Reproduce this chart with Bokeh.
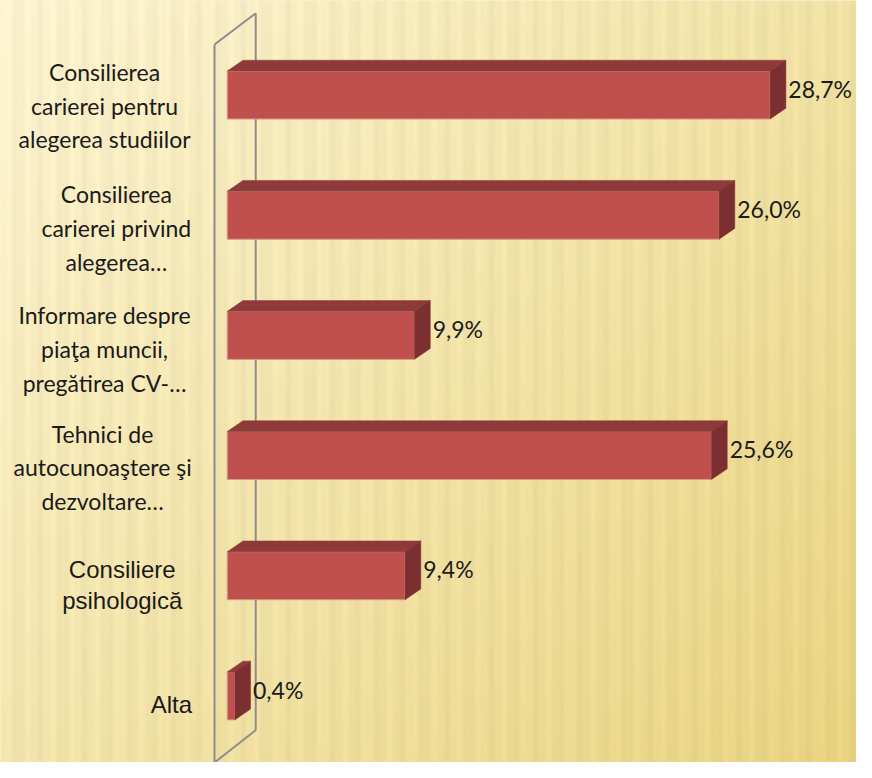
import numpy as np
from bokeh.plotting import figure
from bokeh.models import Range1d, ColumnDataSource
from bokeh.core.properties import value
from bokeh.embed import file_html
from bokeh.resources import INLINE

# ---- data ----
categories = [
    "Consilierea\ncarierei pentru\nalegerea studiilor",
    "Consilierea\ncarierei privind\nalegerea…",
    "Informare despre\npiaţa muncii,\npregătirea CV-…",
    "Tehnici de\nautocunoaştere şi\ndezvoltare…",
    "Consiliere\npsihologică",
    "Alta",
]
values = [28.7, 26.0, 9.9, 25.6, 9.4, 0.4]
value_labels = ["28,7%", "26,0%", "9,9%", "25,6%", "9,4%", "0,4%"]

# ---- layout (reference pixel geometry) ----
W, H = 856, 762
REF_W, REF_H = 872, 778
X0_PX, PX = 231.0, 19.27      # px of value 0, px per percent
Y0_PX, PY = 96.5, 122.7       # px of first bar centre, px per category slot


def xd(px):
    return (px - X0_PX) / PX


def yd(py):
    return -(py - Y0_PX) / PY


label_cx_px = [106, 118, 106, 104, 124, 174]
label_dy_px = [11, 13, 14, 12, 9, 9]
HH = 24.5 / PY       # half bar height
DX = 16.0 / PX       # 3D depth
DY = 11.0 / PY

p = figure(width=W, height=H,
           x_range=Range1d(xd(0), xd(REF_W)), y_range=Range1d(yd(REF_H), yd(0)),
           output_backend="svg", toolbar_location=None, min_border=0,
           x_axis_location=None, y_axis_location=None)
p.grid.visible = False
p.outline_line_color = None
p.background_fill_color = "#F3E3A8"
p.border_fill_color = "#F3E3A8"

# ---- background texture (decorative gradient with soft vertical stripes) ----
nx, ny = 436, 389
fx = (np.arange(nx) + 0.5) / nx
fy_top = 1.0 - (np.arange(ny) + 0.5) / ny
FX, FY = np.meshgrid(fx, fy_top)
t = np.clip(0.55 * FX + 0.45 * FY, 0, 1)
c1 = np.array([252, 243, 209], dtype=float)
c2 = np.array([232, 211, 128], dtype=float)
stripe = 1 + 0.016 * np.sin(FX * REF_W * 2 * np.pi / 23.0) + 0.009 * np.sin(FX * REF_W * 2 * np.pi / 9.0 + 1.3)
img = np.empty((ny, nx), dtype=np.uint32)
view = img.view(dtype=np.uint8).reshape((ny, nx, 4))
for k in range(3):
    view[:, :, k] = np.clip((c1[k] + (c2[k] - c1[k]) * t) * stripe, 0, 255).astype(np.uint8)
view[:, :, 3] = 255
p.image_rgba(image=[img], x=xd(0), y=yd(REF_H), dw=xd(REF_W) - xd(0), dh=yd(0) - yd(REF_H))

# ---- axis wall ----
wall_col = "#8C8C8C"
p.line([xd(260), xd(260)], [yd(13), yd(745)], line_color=wall_col, line_width=2)
p.line([xd(218), xd(218)], [yd(45), yd(778)], line_color=wall_col, line_width=2)
p.line([xd(218), xd(260)], [yd(45), yd(13)], line_color=wall_col, line_width=2)
p.line([xd(218), xd(260)], [yd(778), yd(745)], line_color=wall_col, line_width=2)

# ---- 3D bars ----
ys = [-float(i) for i in range(len(values))]
src = ColumnDataSource(dict(y=ys, right=values))
top_xs, top_ys, side_xs, side_ys = [], [], [], []
for v, yc in zip(values, ys):
    top_xs.append([0, v, v + DX, DX])
    top_ys.append([yc + HH, yc + HH, yc + HH + DY, yc + HH + DY])
    side_xs.append([v, v + DX, v + DX, v])
    side_ys.append([yc + HH, yc + HH + DY, yc - HH + DY, yc - HH])

p.hbar(y="y", left=0, right="right", height=2 * HH, source=src,
       fill_color="#C0504D", line_color="#D49A86", line_width=1)
p.patches(top_xs, top_ys, fill_color="#8E3A3A", line_color="#8E3A3A", line_width=0.5)
p.patches(side_xs, side_ys, fill_color="#7C2F30", line_color="#7C2F30", line_width=0.5)

# ---- value labels ----
p.text(x=[v + DX + 2.5 / PX for v in values], y=[yc + 6.5 / PY for yc in ys],
       text=value_labels, text_align="left", text_baseline="middle",
       text_font=value("Lato"), text_font_size="23px", text_color="#1A1A1A")

# ---- category labels ----
cx = [xd(px) for px in label_cx_px]
cy = [yc - d / PY for yc, d in zip(ys, label_dy_px)]
p.text(x=cx[:4], y=cy[:4], text=categories[:4], text_align="center", text_baseline="middle",
       text_font=value("Lato"), text_font_size="23px", text_color="#1A1A1A",
       text_line_height=1.2)
p.text(x=cx[4:], y=cy[4:], text=categories[4:], text_align="center", text_baseline="middle",
       text_font=value("Liberation Sans"), text_font_size="24px", text_color="#1A1A1A",
       text_line_height=1.15)

open("out.html", "w").write(file_html(p, INLINE))
